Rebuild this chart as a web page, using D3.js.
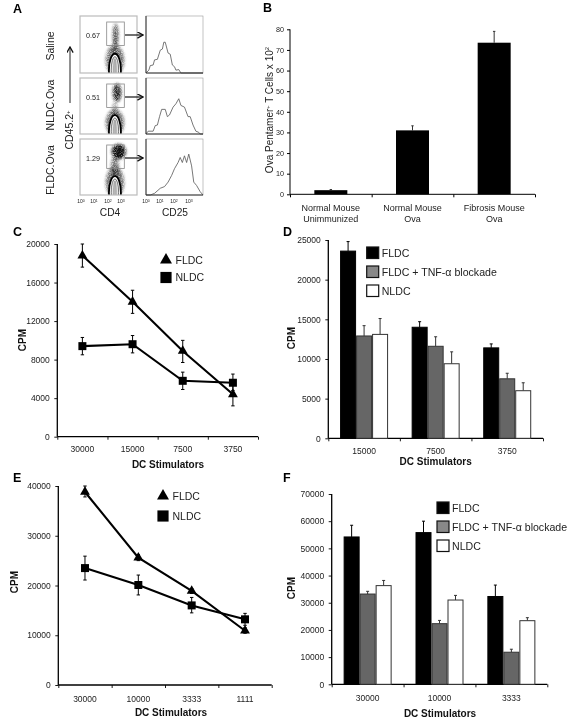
<!DOCTYPE html>
<html><head><meta charset="utf-8">
<script src="https://cdn.jsdelivr.net/npm/d3@7"></script>
<style>
html,body{margin:0;padding:0;background:#fff}
svg{display:block;filter:blur(0.35px)}
text{font-family:"Liberation Sans",Arial,sans-serif;fill:#222}
</style></head><body><svg id="c" width="580" height="721"></svg>
<script>
// ---------- Panel A ----------
const flowRows = ["Saline","NLDC.Ova","FLDC.Ova"];
const gatePercents = ["0.67","0.51","1.29"];
const hist1X=[0,.2,.3,.5,.6,.8,1,1.15,1.25,1.35,1.55,1.7,1.85,2,2.1,2.3,2.45,4];
const hist1Y=[0,5,13,14,23,24,40,42,54,54,35,33,14,11,5,6,0,0];
const hist2X=[0,.15,.5,.65,.8,.95,1.1,1.35,1.5,1.65,1.9,2.1,2.3,2.45,2.7,2.95,3.1,3.3,3.5,3.7,3.8,4];
const hist2Y=[0,5,5,15,16,31,44,44,31,34,48,54,63,51,48,31,31,16,5,3,0,0];
const hist3X=[0,.3,.6,1,1.3,1.55,1.8,2,2.25,2.4,2.55,2.7,2.85,3,3.2,3.35,3.55,3.8,4];
const hist3Y=[0,0,3,12,15,23,35,47,58,67,58,70,58,73,52,23,17,6,0];
const clouds1=[[2.45,.9,.65,1.05,.6],[2.45,1.8,.16,.6,.35],[2.5,2.65,.2,.8,.7]];
const clouds2=[[2.45,.8,.65,.95,.6],[2.45,1.7,.18,.6,.4],[2.6,2.95,.3,.65,.9]];
const clouds3=[[2.45,.9,.65,1.1,.6],[2.45,2,.28,.8,.55],[2.72,3.1,.5,.55,1],[2.75,3.15,.25,.3,1]];
const flowTickLabelsCD4=["0","1","2","3"];
// ---------- Panel B ----------
const bCategories=[["Normal Mouse","Unimmunized"],["Normal Mouse","Ova"],["Fibrosis Mouse","Ova"]];
const bValues=[2,31,73.5];
const bErrors=[2.3,33.2,79];
const bTicks=[0,10,20,30,40,50,60,70,80];
// ---------- Panel C ----------
const cCategories=["30000","15000","7500","3750"];
const cFLDC=[18800,14000,8900,4400];
const cFLDCLow=[17600,12800,7700,3200];
const cFLDCHigh=[20000,15200,10000,5600];
const cNLDC=[9400,9600,5800,5600];
const cNLDCLow=[8500,8700,4900,4800];
const cNLDCHigh=[10300,10500,6700,6500];
const cTicks=[0,4000,8000,12000,16000,20000];
// ---------- Panel D ----------
const dCategories=["15000","7500","3750"];
const dFLDC=[23600,14000,11400];
const dFLDCHigh=[24800,14700,11900];
const dTNF=[12900,11600,7500];
const dTNFHigh=[14200,12800,8200];
const dNLDC=[13100,9400,6000];
const dNLDCHigh=[15100,10900,7000];
const dTicks=[0,5000,10000,15000,20000,25000];
// ---------- Panel E ----------
const eCategories=["30000","10000","3333","1111"];
const eFLDC=[38800,25600,18900,10900];
const eFLDCLow=[37800,25000,18400,10400];
const eFLDCHigh=[40000,26200,19400,11500];
const eNLDC=[23500,20100,16000,13200];
const eNLDCLow=[21100,18100,14500,12000];
const eNLDCHigh=[25900,22100,17600,14400];
const eTicks=[0,10000,20000,30000,40000];
// ---------- Panel F ----------
const fCategories=["30000","10000","3333"];
const fFLDC=[54200,55800,32300];
const fFLDCHigh=[58500,60000,36500];
const fTNF=[33200,22300,11800];
const fTNFHigh=[34200,23500,12900];
const fNLDC=[36300,31000,23400];
const fNLDCHigh=[38200,32700,24500];
const fTicks=[0,10000,20000,30000,40000,50000,60000,70000];
const legendBars=["FLDC","FLDC + TNF-α blockade","NLDC"];
const legendLines=["FLDC","NLDC"];

const svg=d3.select("#c");
const defs=svg.append("defs");
const grain=defs.append("filter").attr("id","grain").attr("x","-50%").attr("y","-50%").attr("width","200%").attr("height","200%");
grain.append("feGaussianBlur").attr("in","SourceGraphic").attr("stdDeviation",1.7).attr("result","b");
grain.append("feTurbulence").attr("type","fractalNoise").attr("baseFrequency",1.1).attr("numOctaves",2).attr("seed",4).attr("result","n");
grain.append("feColorMatrix").attr("in","n").attr("type","matrix")
  .attr("values","0 0 0 0 0  0 0 0 0 0  0 0 0 0 0  1.8 0 0 0 -.05").attr("result","m");
grain.append("feComposite").attr("in","b").attr("in2","m").attr("operator","in");
defs.append("marker").attr("id","ah").attr("viewBox","0 0 10 10").attr("refX",9).attr("refY",5)
  .attr("markerWidth",7).attr("markerHeight",7).attr("markerUnits","userSpaceOnUse").attr("orient","auto")
  .append("path").attr("d","M1,0.5L9,5L1,9.5").attr("fill","none").attr("stroke","#111").attr("stroke-width",1.8);

function label(x,y,t,size,opt={}){
  const e=svg.append("text").attr("x",x).attr("y",y).attr("font-size",size)
    .attr("text-anchor",opt.anchor||"start").text(t);
  if(opt.bold)e.attr("font-weight","bold");
  if(opt.rot!==undefined)e.attr("transform",`rotate(${opt.rot},${x},${y})`);
  if(opt.fill)e.style("fill",opt.fill);
  return e;
}
[["A",13,13],["B",263,12],["C",13,236],["D",283,236],["E",13,482],["F",283,482]]
  .forEach(d=>label(d[1],d[2],d[0],12.5,{bold:true,fill:"#000"}));

// ----- Panel A -----
const rowTops=[16,78,139], rowH=[57,56,56];
const leftX=80,rightX=146,pw=57;
const histsX=[hist1X,hist2X,hist3X], histsY=[hist1Y,hist2Y,hist3Y], clouds=[clouds1,clouds2,clouds3];
const rowLabelY=[46,105,170];
flowRows.forEach((name,i)=>{
  const top=rowTops[i],h=rowH[i];
  const dx=d3.scaleLinear([0,4],[leftX,leftX+pw]);
  const dy=d3.scaleLinear([0,4],[top+h,top]);
  const clipId="cl"+i;
  defs.append("clipPath").attr("id",clipId).append("rect").attr("x",leftX).attr("y",top).attr("width",pw).attr("height",h);
  const g=svg.append("g").attr("clip-path",`url(#${clipId})`);
  g.selectAll("ellipse.cloud").data(clouds[i]).join("ellipse").attr("class","cloud")
    .attr("cx",d=>dx(d[0])).attr("cy",d=>dy(d[1]))
    .attr("rx",d=>dx(d[2])-dx(0)).attr("ry",d=>dy(0)-dy(d[3]))
    .attr("fill","#111").attr("opacity",d=>d[4]).attr("filter","url(#grain)");
  // contour arch
  [[.42,1.15,"#000",1.8,"#fff"],[.26,.95,"#555",.8,"#e4e4e4"],[.09,.8,"#999",.8,"#bbb"]].forEach(c=>{
    g.append("ellipse").attr("cx",dx(2.45)).attr("cy",dy(.2))
      .attr("rx",dx(c[0])-dx(0)).attr("ry",dy(0)-dy(c[1]))
      .attr("fill",c[4]).attr("stroke",c[2]).attr("stroke-width",c[3]);
  });
  svg.append("rect").attr("x",leftX).attr("y",top).attr("width",pw).attr("height",h)
    .attr("fill","none").attr("stroke","#bbb").attr("stroke-width",1.2);
  // gate
  svg.append("rect").attr("x",106.7).attr("y",top+6).attr("width",17.6).attr("height",23.5)
    .attr("fill","none").attr("stroke","#888").attr("stroke-width",.8);
  label(86,top+22,gatePercents[i],7.2,{});
  // arrow
  svg.append("line").attr("x1",125).attr("x2",143).attr("y1",top+19).attr("y2",top+19)
    .attr("stroke","#111").attr("stroke-width",1.2).attr("marker-end","url(#ah)");
  // histogram
  const hx=d3.scaleLinear([0,4],[rightX,rightX+pw]);
  const hy=d3.scaleLinear([0,100],[top+h,top]);
  svg.append("rect").attr("x",rightX).attr("y",top).attr("width",pw).attr("height",h)
    .attr("fill","none").attr("stroke","#999").attr("stroke-width",.6);
  svg.append("path").datum(d3.zip(histsX[i],histsY[i]))
    .attr("d",d3.line().x(d=>hx(d[0])).y(d=>hy(d[1])))
    .attr("fill","none").attr("stroke","#555").attr("stroke-width",.8);
  svg.append("line").attr("x1",rightX).attr("x2",rightX).attr("y1",top).attr("y2",top+h).attr("stroke","#333").attr("stroke-width",1);
  svg.append("line").attr("x1",rightX).attr("x2",rightX+pw).attr("y1",top+h).attr("y2",top+h).attr("stroke","#333").attr("stroke-width",1);
  label(54,rowLabelY[i],name,10.5,{anchor:"middle",rot:-90});
});
label(73,130,"CD45.2",10.5,{anchor:"middle",rot:-90}).append("tspan").attr("font-size",6).attr("dy",-3).text("+");
svg.append("line").attr("x1",70).attr("x2",70).attr("y1",103).attr("y2",47)
  .attr("stroke","#222").attr("stroke-width",1).attr("marker-end","url(#ah)");
[81,94,108,121].forEach((x,i)=>{
  const t=label(x,203,"10",5,{anchor:"middle"});t.append("tspan").attr("font-size",3.5).attr("dy",-1.5).text(flowTickLabelsCD4[i]);
});
[146,160,174,189].forEach((x,i)=>{
  const t=label(x,203,"10",5,{anchor:"middle"});t.append("tspan").attr("font-size",3.5).attr("dy",-1.5).text(flowTickLabelsCD4[i]);
});
label(110,216,"CD4",10.2,{anchor:"middle"});
label(175,216,"CD25",10.2,{anchor:"middle"});

// ----- shared axes -----
function axes(o){
  const y=d3.scaleLinear([0,o.max],[o.y0,o.yTop]);
  const band=d3.scaleBand().domain(o.cats).range([o.x0,o.x1]);
  svg.append("g").attr("transform",`translate(${o.x0},0)`)
    .call(d3.axisLeft(y).tickValues(o.ticks).tickSize(3).tickPadding(4.5).tickFormat(d=>d))
    .call(a=>{a.selectAll("text").attr("font-size",8.5);
      a.select(".domain").attr("stroke-width",1.3).attr("d",`M0,${o.yTop}V${o.y0}`);
      a.selectAll("line").attr("stroke-width",.9)});
  const pos=d3.scaleLinear([0,o.cats.length],[o.x0,o.x1]);
  svg.append("g").attr("transform",`translate(0,${o.y0})`)
    .call(d3.axisBottom(pos).tickValues(d3.range(o.cats.length+1)).tickSize(3).tickFormat(""))
    .call(a=>{a.select(".domain").attr("stroke-width",1.3).attr("d",`M${o.x0},0H${o.x1}`);a.selectAll("line").attr("stroke-width",.9)});
  return {y,band};
}
function catLabels(band,cats,y,size=8.5){
  cats.forEach(c=>label(band(c)+band.bandwidth()/2,y,c,size,{anchor:"middle"}));
}
function grouped(o){
  const {y,band}=axes(o);
  const inner=d3.scaleBand().domain([0,1,2]).range([0,48]);
  const offs=(band.bandwidth()-48)/2;
  const fills=["#000","#666","#fff"],strokes=["#000","#333","#333"];
  o.series.forEach((s,k)=>{
    svg.append("g").selectAll("line").data(o.cats).join("line")
      .attr("x1",c=>band(c)+offs+inner(k)+8).attr("x2",c=>band(c)+offs+inner(k)+8)
      .attr("y1",(c,i)=>y(s[i])).attr("y2",(c,i)=>y(o.highs[k][i])).attr("stroke",strokes[k]).attr("stroke-width",1);
    svg.append("g").selectAll("line").data(o.cats).join("line")
      .attr("x1",c=>band(c)+offs+inner(k)+6.5).attr("x2",c=>band(c)+offs+inner(k)+9.5)
      .attr("y1",(c,i)=>y(o.highs[k][i])).attr("y2",(c,i)=>y(o.highs[k][i])).attr("stroke",strokes[k]).attr("stroke-width",1);
    svg.append("g").selectAll("rect").data(o.cats).join("rect")
      .attr("x",c=>band(c)+offs+inner(k)+.5).attr("width",15)
      .attr("y",(c,i)=>y(s[i])).attr("height",(c,i)=>o.y0-y(s[i]))
      .attr("fill",fills[k]).attr("stroke",strokes[k]).attr("stroke-width",1);
  });
  catLabels(band,o.cats,o.catY);
  label(o.titleX,o.titleY,"DC Stimulators",10,{anchor:"middle",bold:true,fill:"#111"});
  label(o.cpmX,o.cpmY,"CPM",10,{anchor:"middle",bold:true,rot:-90,fill:"#111"});
  const lf=["#000","#888","#fff"];
  legendBars.forEach((t,i)=>{
    svg.append("rect").attr("x",o.legX).attr("y",o.legY+i*o.legDy).attr("width",12).attr("height",11.5)
      .attr("fill",lf[i]).attr("stroke","#111").attr("stroke-width",1.2);
    label(o.legX+15,o.legY+i*o.legDy+10,t,10.6);
  });
}
function lines(o){
  const {y,band}=axes(o);
  const cx=c=>band(c)+band.bandwidth()/2;
  const tri=d3.symbol().type(d3.symbolTriangle).size(o.triSize||42);
  const sq=d3.symbol().type(d3.symbolSquare).size(64);
  const ln=d3.line().x(d=>cx(d[0])).y(d=>y(d[1]));
  [[o.a,o.aL,o.aH],[o.b,o.bL,o.bH]].forEach(([v,l,h])=>{
    const g=svg.append("g").attr("stroke","#000").attr("stroke-width",1);
    o.cats.forEach((c,i)=>{
      g.append("line").attr("x1",cx(c)).attr("x2",cx(c)).attr("y1",y(l[i])).attr("y2",y(h[i]));
      [l[i],h[i]].forEach(e=>g.append("line").attr("x1",cx(c)-1.7).attr("x2",cx(c)+1.7).attr("y1",y(e)).attr("y2",y(e)));
    });
    svg.append("path").datum(d3.zip(o.cats,v)).attr("d",ln).attr("fill","none").attr("stroke","#000").attr("stroke-width",2.1);
  });
  svg.append("g").selectAll("path").data(d3.zip(o.cats,o.a)).join("path").attr("d",tri).attr("fill","#000")
    .attr("transform",d=>`translate(${cx(d[0])},${y(d[1])})`);
  svg.append("g").selectAll("path").data(d3.zip(o.cats,o.b)).join("path").attr("d",sq).attr("fill","#000")
    .attr("transform",d=>`translate(${cx(d[0])},${y(d[1])})`);
  catLabels(band,o.cats,o.catY);
  label(o.titleX,o.titleY,"DC Stimulators",10,{anchor:"middle",bold:true,fill:"#111"});
  label(o.cpmX,o.cpmY,"CPM",10,{anchor:"middle",bold:true,rot:-90,fill:"#111"});
  svg.append("path").attr("d",d3.symbol().type(d3.symbolTriangle).size(62)).attr("fill","#000")
    .attr("transform",`translate(${o.legX},${o.legY[0]})`);
  svg.append("path").attr("d",d3.symbol().type(d3.symbolSquare).size(125)).attr("fill","#000")
    .attr("transform",`translate(${o.legX},${o.legY[1]})`);
  legendLines.forEach((t,i)=>label(o.legX+9.5,o.legY[i]+3.5,t,10.5));
}

// ----- Panel B -----
{
  const x0=290,x1=535,y0=194.3,yT=29.3;
  const y=d3.scaleLinear([0,80],[y0,yT]);
  const pos=d3.scaleLinear([0,3],[x0,x1]);
  const names=bCategories.map(c=>c.join(" "));
  const band=d3.scaleBand().domain(names).range([x0,x1]);
  const bw=33;
  svg.append("g").selectAll("line").data(names).join("line")
    .attr("x1",d=>band(d)+band.bandwidth()/2).attr("x2",d=>band(d)+band.bandwidth()/2)
    .attr("y1",(d,i)=>y(bValues[i])).attr("y2",(d,i)=>y(bErrors[i])).attr("stroke","#333").attr("stroke-width",1);
  svg.append("g").selectAll("line").data(names).join("line")
    .attr("x1",d=>band(d)+band.bandwidth()/2-1.2).attr("x2",d=>band(d)+band.bandwidth()/2+1.2)
    .attr("y1",(d,i)=>y(bErrors[i])).attr("y2",(d,i)=>y(bErrors[i])).attr("stroke","#333").attr("stroke-width",1);
  svg.append("g").selectAll("rect").data(names).join("rect")
    .attr("x",d=>band(d)+(band.bandwidth()-bw)/2).attr("width",bw)
    .attr("y",(d,i)=>y(bValues[i])).attr("height",(d,i)=>y0-y(bValues[i])).attr("fill","#000");
  svg.append("g").attr("transform",`translate(${x0},0)`)
    .call(d3.axisLeft(y).tickValues(bTicks).tickSize(3).tickPadding(3))
    .call(a=>{a.selectAll("text").attr("font-size",7.2);
      a.select(".domain").attr("stroke-width",1).attr("d",`M0,${yT}V${y0}`)});
  svg.append("g").attr("transform",`translate(0,${y0})`)
    .call(d3.axisBottom(pos).tickValues([0,1,2,3]).tickSize(3).tickFormat(""))
    .call(a=>a.select(".domain").attr("stroke-width",1).attr("d",`M${x0},0H${x1}`));
  bCategories.forEach((c,i)=>c.forEach((t,j)=>label(band(names[i])+band.bandwidth()/2,211+j*10.7,t,9,{anchor:"middle"})));
  const t=label(272.5,110,"Ova Pentamer",10,{anchor:"middle",rot:-90});
  t.append("tspan").attr("font-size",5.5).attr("dy",-3).text("+");
  t.append("tspan").attr("dy",3).text(" T Cells x 10");
  t.append("tspan").attr("font-size",6).attr("dy",-3.5).text("2");
}
// ----- C D E F -----
lines({cats:cCategories,max:20000,ticks:cTicks,x0:57.3,x1:258,y0:436.7,yTop:244,
  a:cFLDC,aL:cFLDCLow,aH:cFLDCHigh,b:cNLDC,bL:cNLDCLow,bH:cNLDCHigh,catY:452,titleX:168,titleY:468,cpmX:26,cpmY:340,legX:166,legY:[260,277.5]});
grouped({cats:dCategories,max:25000,ticks:dTicks,x0:328.3,x1:543,y0:438.3,yTop:240,
  series:[dFLDC,dTNF,dNLDC],highs:[dFLDCHigh,dTNFHigh,dNLDCHigh],catY:454,titleX:435.7,titleY:464.5,cpmX:295,cpmY:338,legX:366.7,legY:247,legDy:19});
lines({cats:eCategories,max:40000,ticks:eTicks,x0:58.3,x1:271.7,y0:685,yTop:486,
  a:eFLDC,aL:eFLDCLow,aH:eFLDCHigh,b:eNLDC,bL:eNLDCLow,bH:eNLDCHigh,catY:701.5,titleX:171,titleY:715.5,cpmX:18,cpmY:582,legX:163,legY:[496,516]});
grouped({cats:fCategories,max:70000,ticks:fTicks,x0:331.7,x1:547.3,y0:684.3,yTop:494,
  series:[fFLDC,fTNF,fNLDC],highs:[fFLDCHigh,fTNFHigh,fNLDCHigh],catY:701,titleX:440,titleY:716.5,cpmX:295,cpmY:588,legX:437,legY:502,legDy:19});
</script></body></html>
